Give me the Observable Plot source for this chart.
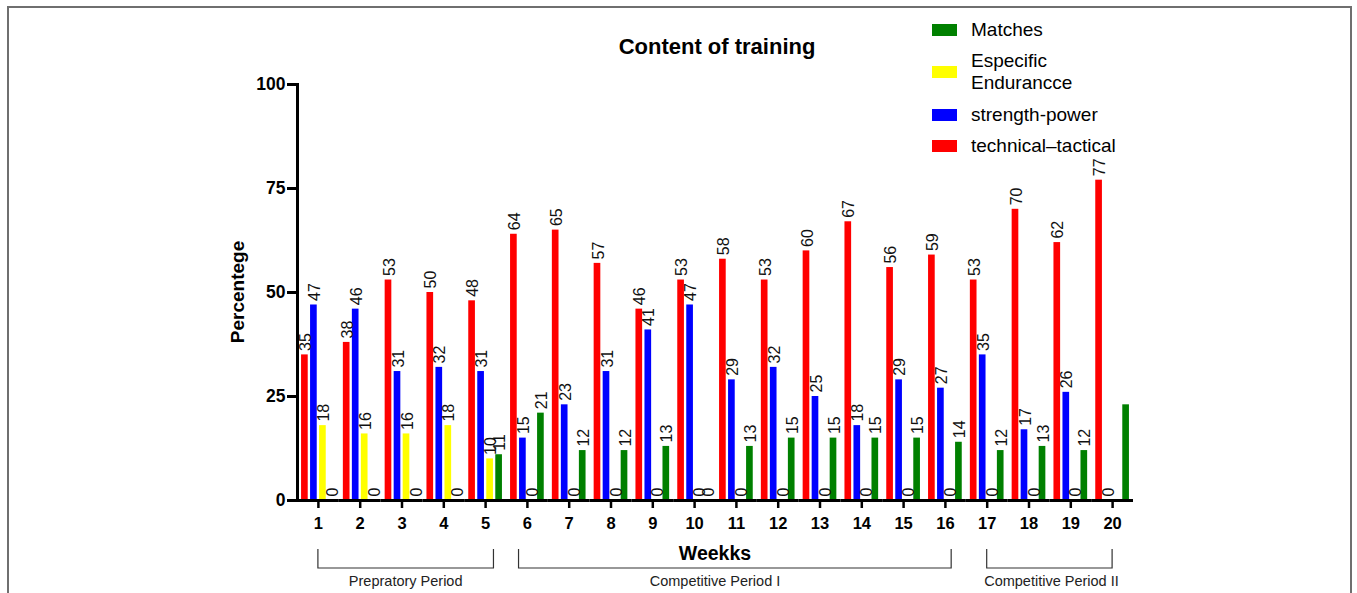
<!DOCTYPE html>
<html>
<head>
<meta charset="utf-8">
<script src="https://cdn.jsdelivr.net/npm/d3@7"></script>
<script src="https://cdn.jsdelivr.net/npm/@observablehq/plot@0.6"></script>
<style>
  html, body { margin: 0; padding: 0; background: #fff; }
  body { font-family: "Liberation Sans", Arial, sans-serif; color: #000; }
  #wrap { position: relative; width: 1357px; height: 593px; overflow: hidden; }
  #border { position: absolute; left: 7px; top: 6px; width: 1345px; height: 620px; border: 2px solid #6f6f6f; box-sizing: border-box; }
  #chart { position: absolute; left: 0; top: 0; }
  .title { position: absolute; left: 0; width: 1434px; top: 34px; text-align: center; font-weight: bold; font-size: 22px; }
  .ylabel { position: absolute; left: 238px; top: 292px; transform: translate(-50%, -50%) rotate(-90deg); font-weight: bold; font-size: 19px; white-space: nowrap; }
  .legend { position: absolute; left: 932px; top: 0; }
  .legend .item { position: absolute; left: 0; white-space: nowrap; }
  .legend .sw { position: absolute; left: 0; width: 25px; height: 12px; }
  .legend .lb { position: absolute; left: 39px; font-size: 19px; line-height: 22px; }
  svg g[aria-label="fx-axis tick label"] text, svg g[aria-label="y-axis tick label"] text { font-weight: bold; }
</style>
</head>
<body>
<div id="wrap">
  <div id="border"></div>
  <div id="chart"></div>
  <div class="title">Content of training</div>
  <div class="ylabel">Percentege</div>
  <div class="legend" id="legend"></div>
</div>
<script>
// ---- data ----
const weeks = ["1","2","3","4","5","6","7","8","9","10","11","12","13","14","15","16","17","18","19","20"];
const seriesNames = ["technical–tactical", "strength-power", "Especific Endurancce", "Matches"];
const seriesColors = ["#ff0000", "#0000ff", "#ffff00", "#008000"];
const technical = [35, 38, 53, 50, 48, 64, 65, 57, 46, 53, 58, 53, 60, 67, 56, 59, 53, 70, 62, 77];
const strength  = [47, 46, 31, 32, 31, 15, 23, 31, 41, 47, 29, 32, 25, 18, 29, 27, 35, 17, 26, 0];
const endurance = [18, 16, 16, 18, 10, 0, 0, 0, 0, 0, 0, 0, 0, 0, 0, 0, 0, 0, 0, null];
const matches   = [0, 0, 0, 0, 11, 21, 12, 12, 13, 0, 13, 15, 15, 15, 15, 14, 12, 13, 12, 23];
const yTicks = [0, 25, 50, 75, 100];
const unlabeled = [{week: "20", series: "Matches"}];
const legendOrder = ["Matches", "Especific Endurancce", "strength-power", "technical–tactical"];
const legendLines = {"Matches": ["Matches"], "Especific Endurancce": ["Especific", "Endurancce"], "strength-power": ["strength-power"], "technical–tactical": ["technical–tactical"]};
const periods = [
  {label: "Prepratory Period", from: 1, to: 5.2, labelAt: 3.1},
  {label: "Competitive Period I", from: 5.8, to: 16.15, labelAt: 10.5},
  {label: "Competitive Period II", from: 17, to: 20, labelAt: 18.55}
];
const xTitle = "Weekks";

// ---- table ----
const seriesValues = [technical, strength, endurance, matches];
const data = [];
weeks.forEach((w, i) => {
  seriesNames.forEach((s, j) => {
    const v = seriesValues[j][i];
    if (v !== null && v !== undefined) data.push({week: w, series: s, value: v});
  });
});
const labelData = data.filter(d => !unlabeled.some(u => u.week === d.week && u.series === d.series));

const chart = Plot.plot({
  width: 1357,
  height: 593,
  marginLeft: 297,
  marginRight: 224,
  marginTop: 84,
  marginBottom: 93,
  style: {fontFamily: "'Liberation Sans', Arial, sans-serif", background: "transparent", overflow: "visible"},
  fx: {domain: weeks, padding: 0, round: false, label: null},
  x: {domain: seriesNames, paddingInner: 0.26, paddingOuter: 0.45, round: false, axis: null},
  y: {domain: [0, 100], axis: null},
  color: {domain: seriesNames, range: seriesColors},
  marks: [
    Plot.barY(data, {fx: "week", x: "series", y: "value", fill: "series"}),
    Plot.text(labelData, {fx: "week", x: "series", y: "value", text: d => String(d.value), rotate: -90, textAnchor: "start", dy: -4, dx: 1, fontSize: 16, fill: "#111"}),
    Plot.ruleY([0], {strokeWidth: 3, stroke: "#000"}),
    Plot.frame({anchor: "left", facetAnchor: "left", strokeWidth: 3, stroke: "#000"}),
    Plot.axisY({ticks: yTicks, tickSize: 10, tickPadding: 2, strokeWidth: 3, fontSize: 17.5, label: null, tickFormat: d => String(d)}),
    Plot.axisFx({anchor: "bottom", tickSize: 8, tickPadding: 9, strokeWidth: 2.5, fontSize: 16.5, label: null})
  ]
});
document.getElementById("chart").appendChild(chart);

// ---- period brackets, placed with the plot's own fx scale ----
const fx = chart.scale("fx");
const step = fx.apply(weeks[1]) - fx.apply(weeks[0]);
const center = w => fx.apply(weeks[0]) + fx.bandwidth / 2 + (w - 1) * step;
const svg = d3.select(chart.tagName.toLowerCase() === "svg" ? chart : chart.querySelector("svg"));
const g = svg.append("g").attr("font-family", "'Liberation Sans', Arial, sans-serif");
const axisMid = (fx.range[0] + fx.range[1]) / 2;
g.append("text").attr("x", axisMid).attr("y", 560).attr("text-anchor", "middle")
  .attr("font-weight", "bold").attr("font-size", 19.5).text(xTitle);
periods.forEach(p => {
  const x1 = center(p.from), x2 = center(p.to);
  g.append("path").attr("d", `M${x1},549V568H${x2}V549`).attr("fill", "none").attr("stroke", "#333").attr("stroke-width", 1.2);
  g.append("text").attr("x", center(p.labelAt)).attr("y", 586).attr("text-anchor", "middle")
    .attr("font-size", 14.5).attr("fill", "#222").text(p.label);
});

// ---- legend ----
const legend = document.getElementById("legend");
const legendTops = {"Matches": 19, "Especific Endurancce": 50, "strength-power": 104, "technical–tactical": 135};
legendOrder.forEach(name => {
  const lines = legendLines[name];
  const top = legendTops[name];
  const item = document.createElement("div");
  item.className = "item";
  item.style.top = top + "px";
  const sw = document.createElement("div");
  sw.className = "sw";
  sw.style.background = seriesColors[seriesNames.indexOf(name)];
  sw.style.top = (lines.length * 22 / 2 - 6) + "px";
  const lb = document.createElement("div");
  lb.className = "lb";
  lb.innerHTML = lines.join("<br>");
  item.appendChild(sw);
  item.appendChild(lb);
  legend.appendChild(item);
});
</script>
</body>
</html>
